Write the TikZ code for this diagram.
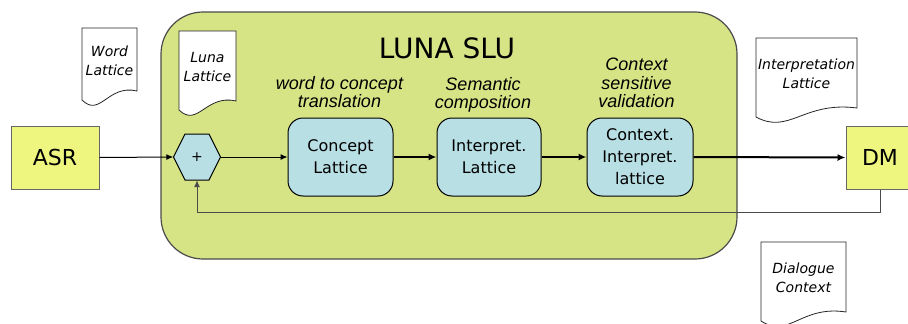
\documentclass[tikz,border=0pt]{standalone}
\usepackage{fontspec}
\setmainfont{DejaVu Sans}
\newfontfamily\arialf{Liberation Sans}
\usetikzlibrary{arrows.meta,calc}
\definecolor{lunag}{HTML}{D6E486}
\definecolor{asry}{HTML}{EEF680}
\definecolor{boxb}{HTML}{B8DFE4}
\definecolor{edgeg}{HTML}{4A4A4A}
\newcommand\mydoc[6]{%
  \pgfmathsetmacro\dw{#4-#2}%
  \draw[docshape] (#2,#3) -- (#4,#3) -- (#4,#5) .. controls ({#4-0.53*\dw},{#5-7}) and ({#2+0.33*\dw},{#5+27}) .. (#2,{#5+9}) -- cycle;
  \node[doctext] (#1) at ({(#2+#4)/2},{(#3+#5)/2+1}) {#6};%
}
\begin{document}
\begin{tikzpicture}[x=1pt,y=-1pt,
  outer/.style={draw=edgeg, line width=1.2pt, fill=lunag, rounded corners=42pt},
  sysbox/.style={draw=gray!80!black, fill=asry, line width=1pt, minimum width=88pt, minimum height=63pt, inner sep=0pt, font=\fontsize{22}{24}\selectfont},
  latbox/.style={draw=black, fill=boxb, rounded corners=15pt, line width=1pt, minimum height=78pt, align=center, inner sep=0pt, font=\fontsize{16}{22}\selectfont},
  steplabel/.style={anchor=north, inner sep=0pt, align=center, font=\arialf\itshape\fontsize{18}{18.5}\selectfont},
  docshape/.style={draw=black!85, fill=white, line width=0.8pt},
  doctext/.style={align=center, inner sep=0pt, font=\itshape\fontsize{14}{19}\selectfont},
  hexstyle/.style={draw=black, fill=boxb, line width=1pt},
  arrthin/.style={-{Latex[length=7pt,width=6pt]}, line width=1pt},
  arrthick/.style={-{Latex[length=8pt,width=7pt]}, line width=2pt},
  fb/.style={draw=edgeg, line width=1pt, -{Latex[length=7pt,width=6pt]}}
]
\clip (0,0) rectangle (908,324);
\fill[white] (0,0) rectangle (908,324);

% outer LUNA SLU block
\draw[outer] (161,12) rectangle (737,259);
\node[font=\fontsize{28}{30}\selectfont, inner sep=0pt] (title) at (447,48) {LUNA SLU};

% documents
\mydoc{wl}{82}{28}{137}{91}{Word\\Lattice}
\mydoc{ll}{179}{31}{236}{101}{Luna\\Lattice}
\mydoc{il}{756}{38}{857}{108}{Interpretation\\Lattice}
\mydoc{dc}{761}{242}{846}{312}{Dialogue\\Context}

% system boxes
\node[sysbox] (asr) at (55,157.5) {ASR};
\node[sysbox, minimum width=68pt] (dm) at (880,157.5) {DM};

% hexagon
\coordinate (hc) at (197,157);
\draw[hexstyle] ($(hc)+(-23.5,0)$) -- ($(hc)+(-12,-23)$) -- ($(hc)+(12,-23)$) -- ($(hc)+(23.5,0)$) -- ($(hc)+(12,23)$) -- ($(hc)+(-12,23)$) -- cycle;
\node[minimum width=47pt, minimum height=46pt, inner sep=0pt, font=\fontsize{14}{14}\selectfont] (hex) at (hc) {+};

% lattice boxes
\node[latbox, minimum width=105pt] (cl) at (340.5,157) {Concept\\Lattice};
\node[latbox, minimum width=104pt] (ipl) at (489,157) {Interpret.\\Lattice};
\node[latbox, minimum width=106pt] (cil) at (640,157) {Context.\\Interpret.\\lattice};

% step labels
\node[steplabel] (l1) at (339.5,76) {word to concept\\translation};
\node[steplabel] (l2) at (483,77) {Semantic\\composition};
\node[steplabel] (l3) at (636.5,58) {Context\\sensitive\\validation};

% connectors
\draw[arrthin] (asr.east) -- (hex.west);
\draw[arrthin] (hex.east) -- (cl.west);
\draw[arrthick] (cl.east) -- (ipl.west);
\draw[arrthick] (ipl.east) -- (cil.west);
\draw[arrthick] (cil.east) -- (dm.west);
\draw[fb] (dm.south) -- ++(0,23) -| (hex.south);
\end{tikzpicture}
\end{document}
